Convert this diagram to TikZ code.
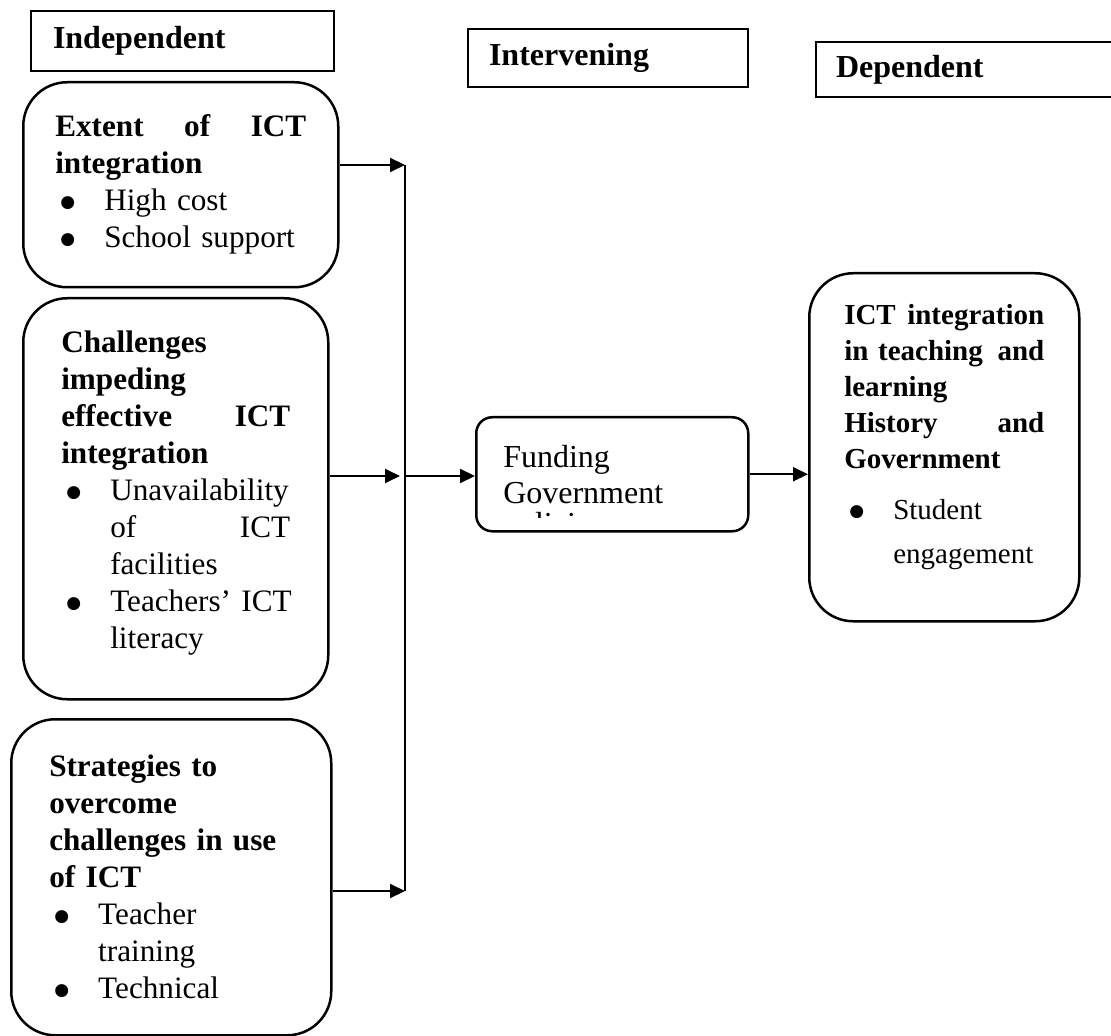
\documentclass[tikz,border=0pt]{standalone}
\usepackage{fontspec}
\setmainfont{Liberation Serif}
\newfontfamily\dotfont{DejaVu Sans}
\usetikzlibrary{math}
\usetikzlibrary{arrows.meta}

% bullet item and its continuation lines
\newcommand{\bul}{\hspace*{2.5pt}\makebox[22pt][l]{\raisebox{1.7pt}{\fontsize{8.5}{8.5}\dotfont ●}}}
\newcommand{\bulcont}{\hspace*{24.5pt}}

\tikzset{
  varbox/.style={draw, line width=1.25pt, rounded corners=22pt, anchor=north west,
    align=left, inner ysep=0pt, font=\fontsize{15.6}{18.5}\selectfont},
  headbox/.style={draw, line width=1pt, anchor=north west, align=left,
    inner ysep=0pt, font=\fontsize{16}{18.5}\selectfont\bfseries},
  link/.style={-{Triangle[length=7.5pt,width=7pt]}, line width=1pt},
}

\begin{document}
\begin{tikzpicture}[line width=1pt, x=0.5pt, y=-0.5pt]

  \tikzmath{
    \barx   = 405; % x of the collecting line
    \bartop = 165; % upper end of the collecting line
    \barbot = 891; % lower end of the collecting line
    \huby   = 476; % height of the middle arrows
  }

  % Frame of the picture
  \useasboundingbox (0,0) rectangle (1111,1036);

  % Column headings
  \node[headbox, text width=129.5pt, inner xsep=11pt, minimum height=30pt] (IndHead) at (30,10) {Independent};
  \node[headbox, text width=119pt, inner xsep=10.5pt, minimum height=29pt] (IntHead) at (467,28) {Intervening};
  \node[headbox, text width=135pt, inner xsep=10pt, minimum height=27.5pt] (DepHead) at (815,41) {Dependent};

  % Independent variables
  \node[varbox, text width=125.5pt, inner xsep=16pt, minimum height=102.5pt] (Extent) at (22,81) {%
    \textbf{Extent \hfill of \hfill ICT}\\
    \textbf{integration}\\
    \bul High cost\\
    \bul School support};
  \node[varbox, text width=114.5pt, inner xsep=19pt, minimum height=200.5pt] (Chall) at (22,297) {%
    \textbf{Challenges}\\
    \textbf{impeding}\\
    \textbf{effective \hfill ICT}\\
    \textbf{integration}\\
    \bul Unavailability\\
    \bulcont of \hfill ICT\\
    \bulcont facilities\\
    \bul \makebox[90pt][s]{Teachers’ ICT}\\
    \bulcont literacy\rule[-9pt]{0pt}{0pt}};
  \node[varbox, text width=122pt, inner xsep=19pt, minimum height=158pt] (Strat) at (10,718) {%
    \textbf{Strategies to}\\
    \textbf{overcome}\\
    \textbf{challenges in use}\\
    \textbf{of ICT}\\
    \bul Teacher\\
    \bulcont training\\
    \bul Technical};

  % Intervening variable
  \node[varbox, rounded corners=8pt, text width=109pt, inner xsep=13.5pt, minimum height=57pt,
    font=\fontsize{16}{18}\selectfont] (Fund) at (475,416) {%
    Funding\\
    Government};
  \begin{scope}
    \clip (475,416) rectangle (747,517);
    \node[anchor=base west, inner sep=0pt, font=\fontsize{16}{18}\selectfont] (Policy) at (502,534) {policies};
  \end{scope}

  % Dependent variable
  \node[varbox, text width=100pt, inner xsep=17.5pt, minimum height=174pt,
    font=\fontsize{14.5}{18}\selectfont] (Outcome) at (808,272) {%
    \textbf{ICT \hfill integration}\\
    \textbf{in teaching \hfill and}\\
    \textbf{learning}\\
    \textbf{History \hfill and}\\
    \textbf{Government}\\[7.5pt]
    \bul Student\\[4pt]
    \bulcont engagement\rule[-13pt]{0pt}{0pt}};

  % Collecting line and arrows
  \coordinate (BarTop) at (\barx,\bartop);
  \coordinate (BarBot) at (\barx,\barbot);
  \coordinate (Hub) at (\barx,\huby);
  \draw[line width=0.75pt] (BarTop) -- (BarBot);
  \draw[link] (Extent.east |- BarTop) -- (BarTop);
  \draw[link] (Chall.east |- Hub) -- ([xshift=-2.5pt]Hub);
  \draw[link] (Strat.east |- BarBot) -- (BarBot);
  \draw[link] (Hub) -- (Fund.west |- Hub);
  \draw[link] (Fund.east) -- (Fund.east -| Outcome.west);

\end{tikzpicture}
\end{document}
